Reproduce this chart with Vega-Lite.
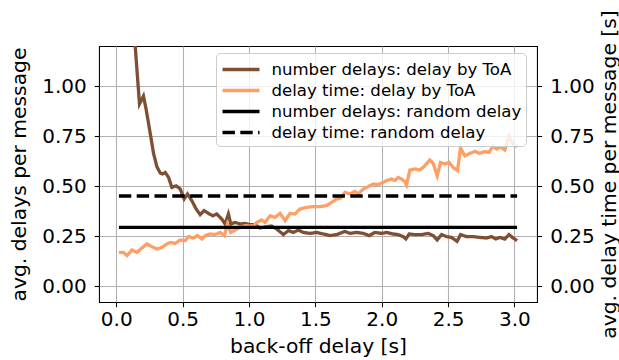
{
  "$schema": "https://vega.github.io/schema/vega-lite/v6.json",
  "autosize": {"type": "none"},
  "padding": {"left": 99, "top": 46, "right": 82, "bottom": 58},
  "width": 438,
  "height": 256,
  "config": {
    "font": "DejaVu Sans",
    "view": {"stroke": "#000000", "strokeWidth": 1.07},
    "axis": {
      "domain": false,
      "tickColor": "#000000",
      "tickWidth": 1.07,
      "tickSize": 4.7,
      "labelFont": "DejaVu Sans",
      "labelFontSize": 20,
      "labelColor": "#000000",
      "titleFont": "DejaVu Sans",
      "titleFontSize": 20.3,
      "titleFontWeight": "normal",
      "titleColor": "#000000",
      "gridColor": "#b0b0b0",
      "gridWidth": 1.07,
      "gridOpacity": 1
    },
    "legend": {
      "title": " ",
      "titleOrient": "right",
      "titleFontSize": 16.4,
      "titlePadding": 13,
      "orient": "none",
      "legendX": 117,
      "legendY": 7,
      "symbolType": "M-1.85,0H1.85",
      "symbolSize": 400,
      "symbolOffset": 8.5,
      "symbolStrokeWidth": 3.3,
      "labelFont": "DejaVu Sans",
      "labelFontSize": 16.6,
      "labelColor": "#000000",
      "labelOffset": 18.4,
      "labelLimit": 400,
      "rowPadding": 0,
      "padding": 4.5,
      "fillColor": "rgba(255,255,255,0.8)",
      "strokeColor": "#cccccc",
      "cornerRadius": 4
    }
  },
  "data": {
    "values": [
      {"x": 0.02, "y": 3.2, "s": "number delays: delay by ToA"},
      {"x": 0.05, "y": 2.5, "s": "number delays: delay by ToA"},
      {"x": 0.08, "y": 1.9, "s": "number delays: delay by ToA"},
      {"x": 0.11, "y": 1.45, "s": "number delays: delay by ToA"},
      {"x": 0.145, "y": 1.18, "s": "number delays: delay by ToA"},
      {"x": 0.175, "y": 0.91, "s": "number delays: delay by ToA"},
      {"x": 0.205, "y": 0.95, "s": "number delays: delay by ToA"},
      {"x": 0.226, "y": 0.88, "s": "number delays: delay by ToA"},
      {"x": 0.256, "y": 0.763, "s": "number delays: delay by ToA"},
      {"x": 0.281, "y": 0.663, "s": "number delays: delay by ToA"},
      {"x": 0.306, "y": 0.597, "s": "number delays: delay by ToA"},
      {"x": 0.331, "y": 0.565, "s": "number delays: delay by ToA"},
      {"x": 0.35, "y": 0.56, "s": "number delays: delay by ToA"},
      {"x": 0.369, "y": 0.568, "s": "number delays: delay by ToA"},
      {"x": 0.394, "y": 0.543, "s": "number delays: delay by ToA"},
      {"x": 0.419, "y": 0.493, "s": "number delays: delay by ToA"},
      {"x": 0.451, "y": 0.501, "s": "number delays: delay by ToA"},
      {"x": 0.482, "y": 0.485, "s": "number delays: delay by ToA"},
      {"x": 0.512, "y": 0.435, "s": "number delays: delay by ToA"},
      {"x": 0.537, "y": 0.46, "s": "number delays: delay by ToA"},
      {"x": 0.569, "y": 0.427, "s": "number delays: delay by ToA"},
      {"x": 0.602, "y": 0.385, "s": "number delays: delay by ToA"},
      {"x": 0.632, "y": 0.357, "s": "number delays: delay by ToA"},
      {"x": 0.662, "y": 0.377, "s": "number delays: delay by ToA"},
      {"x": 0.695, "y": 0.363, "s": "number delays: delay by ToA"},
      {"x": 0.727, "y": 0.351, "s": "number delays: delay by ToA"},
      {"x": 0.757, "y": 0.36, "s": "number delays: delay by ToA"},
      {"x": 0.795, "y": 0.335, "s": "number delays: delay by ToA"},
      {"x": 0.82, "y": 0.31, "s": "number delays: delay by ToA"},
      {"x": 0.845, "y": 0.36, "s": "number delays: delay by ToA"},
      {"x": 0.863, "y": 0.31, "s": "number delays: delay by ToA"},
      {"x": 0.895, "y": 0.318, "s": "number delays: delay by ToA"},
      {"x": 0.933, "y": 0.31, "s": "number delays: delay by ToA"},
      {"x": 0.971, "y": 0.313, "s": "number delays: delay by ToA"},
      {"x": 1.008, "y": 0.307, "s": "number delays: delay by ToA"},
      {"x": 1.046, "y": 0.307, "s": "number delays: delay by ToA"},
      {"x": 1.083, "y": 0.29, "s": "number delays: delay by ToA"},
      {"x": 1.12, "y": 0.295, "s": "number delays: delay by ToA"},
      {"x": 1.17, "y": 0.3, "s": "number delays: delay by ToA"},
      {"x": 1.209, "y": 0.285, "s": "number delays: delay by ToA"},
      {"x": 1.259, "y": 0.257, "s": "number delays: delay by ToA"},
      {"x": 1.297, "y": 0.277, "s": "number delays: delay by ToA"},
      {"x": 1.334, "y": 0.268, "s": "number delays: delay by ToA"},
      {"x": 1.372, "y": 0.28, "s": "number delays: delay by ToA"},
      {"x": 1.409, "y": 0.268, "s": "number delays: delay by ToA"},
      {"x": 1.46, "y": 0.263, "s": "number delays: delay by ToA"},
      {"x": 1.51, "y": 0.268, "s": "number delays: delay by ToA"},
      {"x": 1.56, "y": 0.26, "s": "number delays: delay by ToA"},
      {"x": 1.61, "y": 0.252, "s": "number delays: delay by ToA"},
      {"x": 1.66, "y": 0.257, "s": "number delays: delay by ToA"},
      {"x": 1.723, "y": 0.273, "s": "number delays: delay by ToA"},
      {"x": 1.761, "y": 0.263, "s": "number delays: delay by ToA"},
      {"x": 1.811, "y": 0.268, "s": "number delays: delay by ToA"},
      {"x": 1.861, "y": 0.263, "s": "number delays: delay by ToA"},
      {"x": 1.906, "y": 0.252, "s": "number delays: delay by ToA"},
      {"x": 1.949, "y": 0.268, "s": "number delays: delay by ToA"},
      {"x": 1.999, "y": 0.263, "s": "number delays: delay by ToA"},
      {"x": 2.037, "y": 0.268, "s": "number delays: delay by ToA"},
      {"x": 2.087, "y": 0.26, "s": "number delays: delay by ToA"},
      {"x": 2.124, "y": 0.257, "s": "number delays: delay by ToA"},
      {"x": 2.162, "y": 0.247, "s": "number delays: delay by ToA"},
      {"x": 2.182, "y": 0.235, "s": "number delays: delay by ToA"},
      {"x": 2.207, "y": 0.26, "s": "number delays: delay by ToA"},
      {"x": 2.25, "y": 0.257, "s": "number delays: delay by ToA"},
      {"x": 2.3, "y": 0.257, "s": "number delays: delay by ToA"},
      {"x": 2.35, "y": 0.263, "s": "number delays: delay by ToA"},
      {"x": 2.388, "y": 0.252, "s": "number delays: delay by ToA"},
      {"x": 2.418, "y": 0.23, "s": "number delays: delay by ToA"},
      {"x": 2.451, "y": 0.257, "s": "number delays: delay by ToA"},
      {"x": 2.488, "y": 0.247, "s": "number delays: delay by ToA"},
      {"x": 2.526, "y": 0.243, "s": "number delays: delay by ToA"},
      {"x": 2.568, "y": 0.223, "s": "number delays: delay by ToA"},
      {"x": 2.594, "y": 0.257, "s": "number delays: delay by ToA"},
      {"x": 2.639, "y": 0.247, "s": "number delays: delay by ToA"},
      {"x": 2.689, "y": 0.247, "s": "number delays: delay by ToA"},
      {"x": 2.739, "y": 0.243, "s": "number delays: delay by ToA"},
      {"x": 2.789, "y": 0.24, "s": "number delays: delay by ToA"},
      {"x": 2.827, "y": 0.247, "s": "number delays: delay by ToA"},
      {"x": 2.859, "y": 0.235, "s": "number delays: delay by ToA"},
      {"x": 2.889, "y": 0.243, "s": "number delays: delay by ToA"},
      {"x": 2.927, "y": 0.235, "s": "number delays: delay by ToA"},
      {"x": 2.959, "y": 0.257, "s": "number delays: delay by ToA"},
      {"x": 2.99, "y": 0.24, "s": "number delays: delay by ToA"},
      {"x": 3.02, "y": 0.227, "s": "number delays: delay by ToA"},

      {"x": 0.02, "y": 0.168, "s": "delay time: delay by ToA"},
      {"x": 0.055, "y": 0.168, "s": "delay time: delay by ToA"},
      {"x": 0.08, "y": 0.152, "s": "delay time: delay by ToA"},
      {"x": 0.118, "y": 0.18, "s": "delay time: delay by ToA"},
      {"x": 0.156, "y": 0.168, "s": "delay time: delay by ToA"},
      {"x": 0.193, "y": 0.19, "s": "delay time: delay by ToA"},
      {"x": 0.231, "y": 0.21, "s": "delay time: delay by ToA"},
      {"x": 0.268, "y": 0.197, "s": "delay time: delay by ToA"},
      {"x": 0.306, "y": 0.185, "s": "delay time: delay by ToA"},
      {"x": 0.344, "y": 0.193, "s": "delay time: delay by ToA"},
      {"x": 0.381, "y": 0.21, "s": "delay time: delay by ToA"},
      {"x": 0.406, "y": 0.218, "s": "delay time: delay by ToA"},
      {"x": 0.444, "y": 0.213, "s": "delay time: delay by ToA"},
      {"x": 0.482, "y": 0.23, "s": "delay time: delay by ToA"},
      {"x": 0.519, "y": 0.227, "s": "delay time: delay by ToA"},
      {"x": 0.544, "y": 0.247, "s": "delay time: delay by ToA"},
      {"x": 0.582, "y": 0.24, "s": "delay time: delay by ToA"},
      {"x": 0.612, "y": 0.252, "s": "delay time: delay by ToA"},
      {"x": 0.645, "y": 0.235, "s": "delay time: delay by ToA"},
      {"x": 0.67, "y": 0.252, "s": "delay time: delay by ToA"},
      {"x": 0.707, "y": 0.26, "s": "delay time: delay by ToA"},
      {"x": 0.745, "y": 0.257, "s": "delay time: delay by ToA"},
      {"x": 0.783, "y": 0.268, "s": "delay time: delay by ToA"},
      {"x": 0.815, "y": 0.252, "s": "delay time: delay by ToA"},
      {"x": 0.838, "y": 0.31, "s": "delay time: delay by ToA"},
      {"x": 0.863, "y": 0.268, "s": "delay time: delay by ToA"},
      {"x": 0.895, "y": 0.28, "s": "delay time: delay by ToA"},
      {"x": 0.933, "y": 0.293, "s": "delay time: delay by ToA"},
      {"x": 0.971, "y": 0.302, "s": "delay time: delay by ToA"},
      {"x": 1.008, "y": 0.3, "s": "delay time: delay by ToA"},
      {"x": 1.033, "y": 0.3, "s": "delay time: delay by ToA"},
      {"x": 1.058, "y": 0.318, "s": "delay time: delay by ToA"},
      {"x": 1.096, "y": 0.33, "s": "delay time: delay by ToA"},
      {"x": 1.121, "y": 0.318, "s": "delay time: delay by ToA"},
      {"x": 1.159, "y": 0.351, "s": "delay time: delay by ToA"},
      {"x": 1.196, "y": 0.343, "s": "delay time: delay by ToA"},
      {"x": 1.234, "y": 0.363, "s": "delay time: delay by ToA"},
      {"x": 1.272, "y": 0.327, "s": "delay time: delay by ToA"},
      {"x": 1.309, "y": 0.363, "s": "delay time: delay by ToA"},
      {"x": 1.347, "y": 0.36, "s": "delay time: delay by ToA"},
      {"x": 1.384, "y": 0.385, "s": "delay time: delay by ToA"},
      {"x": 1.435, "y": 0.393, "s": "delay time: delay by ToA"},
      {"x": 1.485, "y": 0.397, "s": "delay time: delay by ToA"},
      {"x": 1.535, "y": 0.397, "s": "delay time: delay by ToA"},
      {"x": 1.585, "y": 0.402, "s": "delay time: delay by ToA"},
      {"x": 1.623, "y": 0.418, "s": "delay time: delay by ToA"},
      {"x": 1.66, "y": 0.435, "s": "delay time: delay by ToA"},
      {"x": 1.691, "y": 0.44, "s": "delay time: delay by ToA"},
      {"x": 1.723, "y": 0.468, "s": "delay time: delay by ToA"},
      {"x": 1.761, "y": 0.46, "s": "delay time: delay by ToA"},
      {"x": 1.798, "y": 0.473, "s": "delay time: delay by ToA"},
      {"x": 1.823, "y": 0.46, "s": "delay time: delay by ToA"},
      {"x": 1.861, "y": 0.485, "s": "delay time: delay by ToA"},
      {"x": 1.898, "y": 0.497, "s": "delay time: delay by ToA"},
      {"x": 1.936, "y": 0.51, "s": "delay time: delay by ToA"},
      {"x": 1.974, "y": 0.507, "s": "delay time: delay by ToA"},
      {"x": 2.011, "y": 0.518, "s": "delay time: delay by ToA"},
      {"x": 2.037, "y": 0.527, "s": "delay time: delay by ToA"},
      {"x": 2.074, "y": 0.535, "s": "delay time: delay by ToA"},
      {"x": 2.099, "y": 0.527, "s": "delay time: delay by ToA"},
      {"x": 2.124, "y": 0.543, "s": "delay time: delay by ToA"},
      {"x": 2.149, "y": 0.535, "s": "delay time: delay by ToA"},
      {"x": 2.174, "y": 0.523, "s": "delay time: delay by ToA"},
      {"x": 2.187, "y": 0.505, "s": "delay time: delay by ToA"},
      {"x": 2.212, "y": 0.58, "s": "delay time: delay by ToA"},
      {"x": 2.25, "y": 0.585, "s": "delay time: delay by ToA"},
      {"x": 2.287, "y": 0.58, "s": "delay time: delay by ToA"},
      {"x": 2.325, "y": 0.601, "s": "delay time: delay by ToA"},
      {"x": 2.363, "y": 0.63, "s": "delay time: delay by ToA"},
      {"x": 2.388, "y": 0.613, "s": "delay time: delay by ToA"},
      {"x": 2.418, "y": 0.551, "s": "delay time: delay by ToA"},
      {"x": 2.443, "y": 0.618, "s": "delay time: delay by ToA"},
      {"x": 2.475, "y": 0.61, "s": "delay time: delay by ToA"},
      {"x": 2.508, "y": 0.618, "s": "delay time: delay by ToA"},
      {"x": 2.538, "y": 0.593, "s": "delay time: delay by ToA"},
      {"x": 2.571, "y": 0.577, "s": "delay time: delay by ToA"},
      {"x": 2.594, "y": 0.69, "s": "delay time: delay by ToA"},
      {"x": 2.626, "y": 0.651, "s": "delay time: delay by ToA"},
      {"x": 2.664, "y": 0.663, "s": "delay time: delay by ToA"},
      {"x": 2.701, "y": 0.673, "s": "delay time: delay by ToA"},
      {"x": 2.739, "y": 0.663, "s": "delay time: delay by ToA"},
      {"x": 2.777, "y": 0.673, "s": "delay time: delay by ToA"},
      {"x": 2.809, "y": 0.668, "s": "delay time: delay by ToA"},
      {"x": 2.839, "y": 0.701, "s": "delay time: delay by ToA"},
      {"x": 2.865, "y": 0.685, "s": "delay time: delay by ToA"},
      {"x": 2.895, "y": 0.696, "s": "delay time: delay by ToA"},
      {"x": 2.927, "y": 0.68, "s": "delay time: delay by ToA"},
      {"x": 2.959, "y": 0.751, "s": "delay time: delay by ToA"},
      {"x": 2.99, "y": 0.71, "s": "delay time: delay by ToA"},
      {"x": 3.02, "y": 0.696, "s": "delay time: delay by ToA"},

      {"x": 0.02, "y": 0.293, "s": "number delays: random delay"},
      {"x": 3.02, "y": 0.293, "s": "number delays: random delay"},
      {"x": 0.02, "y": 0.45, "s": "delay time: random delay"},
      {"x": 3.02, "y": 0.45, "s": "delay time: random delay"}
    ]
  },
  "encoding": {
    "x": {
      "field": "x",
      "type": "quantitative",
      "scale": {"domain": [-0.13, 3.17], "nice": false, "zero": false},
      "axis": {
        "title": "back-off delay [s]",
        "values": [0, 0.5, 1, 1.5, 2, 2.5, 3],
        "format": ".1f",
        "labelPadding": 3,
        "titlePadding": 7,
        "grid": true
      }
    },
    "y": {
      "field": "y",
      "type": "quantitative",
      "scale": {"domain": [-0.08, 1.2], "nice": false, "zero": false}
    }
  },
  "layer": [
    {
      "mark": {"type": "line", "clip": true, "strokeWidth": 3.3, "strokeCap": "butt"},
      "encoding": {
        "y": {
          "field": "y",
          "type": "quantitative",
          "axis": {
            "title": "avg. delays per message",
            "orient": "left",
            "values": [0, 0.25, 0.5, 0.75, 1],
            "format": ".2f",
            "labelPadding": 8,
            "titlePadding": 12,
            "grid": true
          }
        },
        "color": {
          "field": "s",
          "type": "nominal",
          "sort": null,
          "scale": {
            "domain": ["number delays: delay by ToA", "delay time: delay by ToA", "number delays: random delay", "delay time: random delay"],
            "range": ["#7f4f33", "#ff9f65", "#000000", "#000000"]
          }
        },
        "strokeDash": {
          "field": "s",
          "type": "nominal",
          "sort": null,
          "scale": {
            "domain": ["number delays: delay by ToA", "delay time: delay by ToA", "number delays: random delay", "delay time: random delay"],
            "range": [[1, 0], [1, 0], [1, 0], [12.4, 5.4]]
          }
        }
      }
    },
    {
      "mark": {"type": "line", "opacity": 0, "clip": true},
      "encoding": {
        "y": {
          "field": "y",
          "type": "quantitative",
          "axis": {
            "title": "avg. delay time per message [s]",
            "orient": "right",
            "values": [0, 0.25, 0.5, 0.75, 1],
            "format": ".2f",
            "labelPadding": 8,
            "titlePadding": 25,
            "titleAngle": 270,
            "grid": false
          }
        },
        "detail": {"field": "s", "type": "nominal"}
      }
    }
  ],
  "resolve": {"axis": {"y": "independent"}}
}
